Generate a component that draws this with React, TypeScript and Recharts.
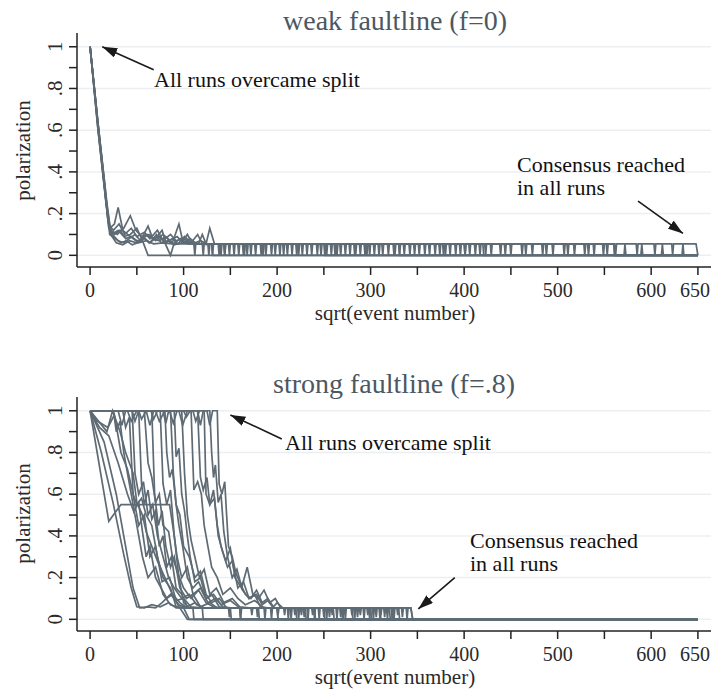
import { LineChart, Line, XAxis, YAxis, CartesianGrid, ReferenceLine } from "recharts";

type Pt = [number, number];

const xTicks = [0, 50, 100, 150, 200, 250, 300, 350, 400, 450, 500, 550, 600, 650];
const xTickLabels = [0, 100, 200, 300, 400, 500, 600, 650];
const yTicks = [0, 0.1, 0.2, 0.3, 0.4, 0.5, 0.6, 0.7, 0.8, 0.9, 1];
const yTickLabels = [0, 0.2, 0.4, 0.6, 0.8, 1];

// weak faultline runs
const weakRun1: Pt[] = [
  [0, 1], [8, 0.62], [16, 0.3], [20, 0.13], [26, 0.1], [32, 0.12], [38, 0.08], [44, 0.09], [50, 0.07], [56, 0.07], [62, 0],
  [571, 0], [572, 0.055], [573, 0], [589, 0], [590, 0.055], [591, 0], [611, 0], [612, 0.055], [613, 0], [633, 0], [634, 0.055], [635, 0], [650, 0],
];
const weakRun2: Pt[] = [
  [0, 1], [9, 0.6], [17, 0.27], [22, 0.12], [29, 0.1], [36, 0.13], [43, 0.19], [49, 0.12], [55, 0.09], [61, 0.1], [67, 0.08], [74, 0.09], [80, 0.06], [86, 0], [90, 0.06], [97, 0.08], [104, 0.055],
  [111, 0.055], [112, 0], [113, 0.055], [126, 0.055], [127, 0], [128, 0.055], [143, 0.055], [144, 0], [145, 0.055], [153, 0.055], [154, 0], [155, 0.055],
  [163, 0.055], [164, 0], [165, 0.055], [182, 0.055], [183, 0], [184, 0.055], [193, 0.055], [194, 0], [195, 0.055], [210, 0.055], [211, 0], [212, 0.055],
  [222, 0.055], [223, 0], [224, 0.055], [242, 0.055], [243, 0], [244, 0.055], [252, 0.055], [253, 0], [254, 0.055], [263, 0.055], [264, 0], [265, 0.055],
  [283, 0.055], [284, 0], [285, 0.055], [293, 0.055], [294, 0], [295, 0.055], [312, 0.055], [313, 0], [314, 0.055], [325, 0.055], [326, 0], [327, 0.055],
  [330, 0.055], [331, 0], [650, 0],
];
const weakRun3: Pt[] = [
  [0, 1], [8, 0.64], [16, 0.31], [20, 0.15], [24, 0.1], [30, 0.07], [36, 0.06], [42, 0.08], [48, 0.1], [54, 0.07], [62, 0.14], [67, 0.08], [74, 0.07], [81, 0.09], [88, 0.06], [95, 0.15], [99, 0.07], [106, 0.06], [113, 0.055],
  [120, 0.055], [121, 0], [122, 0.055], [139, 0.055], [140, 0], [141, 0.055], [158, 0.055], [159, 0], [160, 0.055], [176, 0.055], [177, 0], [178, 0.055],
  [197, 0.055], [198, 0], [199, 0.055], [215, 0.055], [216, 0], [217, 0.055], [236, 0.055], [237, 0], [238, 0.055], [257, 0.055], [258, 0], [259, 0.055],
  [277, 0.055], [278, 0], [279, 0.055], [298, 0.055], [299, 0], [300, 0.055], [318, 0.055], [319, 0], [320, 0.055], [341, 0.055], [342, 0], [343, 0.055],
  [362, 0.055], [363, 0], [364, 0.055], [384, 0.055], [385, 0], [386, 0.055], [405, 0.055], [406, 0], [407, 0.055], [428, 0.055], [429, 0], [430, 0.055],
  [449, 0.055], [450, 0], [451, 0.055], [472, 0.055], [473, 0], [474, 0.055], [494, 0.055], [495, 0], [496, 0.055], [517, 0.055], [518, 0], [519, 0.055],
  [538, 0.055], [539, 0], [540, 0.055], [561, 0.055], [562, 0], [563, 0.055], [584, 0.055], [585, 0], [586, 0.055], [603, 0.055], [604, 0], [605, 0.055],
  [622, 0.055], [623, 0], [624, 0.055], [648, 0.055], [650, 0],
];
const weakRun4: Pt[] = [
  [0, 1], [9, 0.58], [17, 0.25], [21, 0.1], [27, 0.08], [33, 0.06], [39, 0.07], [45, 0.05], [51, 0.06], [58, 0.08], [64, 0.06], [71, 0.1], [76, 0.06], [83, 0.07], [90, 0.05], [98, 0.06], [104, 0.1], [109, 0.06], [116, 0.055], [120, 0.1], [124, 0.055], [128, 0.13], [133, 0.055],
  [137, 0.055], [138, 0], [139, 0.055], [171, 0.055], [172, 0], [173, 0.055], [202, 0.055], [203, 0], [204, 0.055], [231, 0.055], [232, 0], [233, 0.055],
  [272, 0.055], [273, 0], [274, 0.055], [303, 0.055], [304, 0], [305, 0.055], [335, 0.055], [336, 0], [337, 0.055], [357, 0.055], [358, 0], [359, 0.055],
  [368, 0.055], [369, 0], [370, 0.055], [379, 0.055], [380, 0], [381, 0.055], [390, 0.055], [391, 0], [392, 0.055], [400, 0.055], [401, 0], [402, 0.055],
  [411, 0.055], [412, 0], [413, 0.055], [420, 0.055], [421, 0], [650, 0],
];
const weakRun5: Pt[] = [[0, 1], [10, 0.57], [18, 0.22], [22, 0.1], [28, 0.06], [35, 0.05], [42, 0.07], [50, 0.06], [57, 0.09], [63, 0.06], [70, 0.08], [77, 0.12], [81, 0.06], [88, 0.08], [94, 0.055], [101, 0.09], [108, 0.06], [115, 0.1], [120, 0.055], [130, 0.055], [131, 0], [650, 0]];
const weakRun6: Pt[] = [
  [0, 1], [8, 0.65], [16, 0.33], [19, 0.17], [23, 0.1], [30, 0.12], [36, 0.09], [43, 0.1], [50, 0.13], [55, 0.08], [63, 0.1], [70, 0.07], [78, 0.1], [85, 0.07], [93, 0.09], [100, 0.06], [107, 0.08], [114, 0.055],
  [130, 0.055], [131, 0], [132, 0.055], [148, 0.055], [149, 0], [150, 0.055], [167, 0.055], [168, 0], [169, 0.055], [187, 0.055], [188, 0], [189, 0.055],
  [206, 0.055], [207, 0], [208, 0.055], [226, 0.055], [227, 0], [228, 0.055], [246, 0.055], [247, 0], [248, 0.055], [267, 0.055], [268, 0], [269, 0.055],
  [288, 0.055], [289, 0], [290, 0.055], [308, 0.055], [309, 0], [310, 0.055], [330, 0.055], [331, 0], [332, 0.055], [351, 0.055], [352, 0], [353, 0.055],
  [373, 0.055], [374, 0], [375, 0.055], [395, 0.055], [396, 0], [397, 0.055], [416, 0.055], [417, 0], [418, 0.055], [438, 0.055], [439, 0], [440, 0.055],
  [461, 0.055], [462, 0], [463, 0.055], [483, 0.055], [484, 0], [485, 0.055], [506, 0.055], [507, 0], [508, 0.055], [528, 0.055], [529, 0], [530, 0.055],
  [548, 0.055], [549, 0], [550, 0.055], [560, 0.055], [561, 0], [650, 0],
];
const weakRun7: Pt[] = [
  [0, 1], [9, 0.61], [17, 0.29], [21, 0.14], [25, 0.12], [31, 0.15], [37, 0.1], [44, 0.13], [50, 0.09], [58, 0.11], [64, 0.08], [72, 0.12], [78, 0.07], [86, 0.1], [92, 0.07], [100, 0.08], [110, 0.055], [118, 0.07], [125, 0.055],
  [143, 0.055], [144, 0], [145, 0.055], [164, 0.055], [165, 0], [166, 0.055], [184, 0.055], [185, 0], [186, 0.055], [220, 0.055], [221, 0], [222, 0.055],
  [251, 0.055], [252, 0], [253, 0.055], [261, 0.055], [262, 0], [263, 0.055], [282, 0.055], [283, 0], [284, 0.055], [295, 0.055], [296, 0], [297, 0.055],
  [324, 0.055], [325, 0], [326, 0.055], [346, 0.055], [347, 0], [348, 0.055], [377, 0.055], [378, 0], [379, 0.055], [400, 0.055], [401, 0], [402, 0.055],
  [422, 0.055], [423, 0], [424, 0.055], [443, 0.055], [444, 0], [445, 0.055], [465, 0.055], [466, 0], [467, 0.055], [487, 0.055], [488, 0], [489, 0.055],
  [510, 0.055], [511, 0], [512, 0.055], [532, 0.055], [533, 0], [534, 0.055], [552, 0.055], [553, 0], [554, 0.055], [560, 0.055], [561, 0], [650, 0],
];
const weakRun8: Pt[] = [[0, 1], [9, 0.59], [17, 0.26], [21, 0.13], [26, 0.15], [30, 0.23], [35, 0.12], [40, 0.1], [46, 0.08], [52, 0.06], [60, 0.07], [68, 0.055], [78, 0.06], [88, 0.055], [250, 0.055], [251, 0], [650, 0]];

// strong faultline runs
const strongRun1: Pt[] = [[0, 1], [20, 0.47], [33, 0.55], [85, 0.55], [90, 0.4], [95, 0.2], [100, 0.08], [106, 0.055], [120, 0.055], [121, 0], [650, 0]];
const strongRun2: Pt[] = [[0, 1], [12, 0.8], [25, 0.55], [36, 0.31], [44, 0.15], [50, 0.06], [58, 0.055], [66, 0.07], [75, 0.06], [84, 0.08], [92, 0.055], [110, 0.055], [111, 0], [650, 0]];
const strongRun3: Pt[] = [[0, 1], [15, 0.85], [28, 0.6], [38, 0.35], [46, 0.15], [53, 0.055], [62, 0.06], [70, 0.055], [77, 0.08], [86, 0.12], [95, 0.07], [104, 0.055], [160, 0.055], [161, 0], [650, 0]];
const strongRun4: Pt[] = [[0, 1], [10, 0.92], [20, 0.88], [30, 0.75], [40, 0.6], [48, 0.5], [56, 0.3], [62, 0.2], [70, 0.25], [78, 0.12], [86, 0.07], [96, 0.055], [104, 0], [650, 0]];
const strongRun5: Pt[] = [[0, 1], [8, 0.95], [19, 0.92], [26, 0.98], [33, 0.8], [40, 0.72], [45, 0.62], [52, 0.45], [58, 0.5], [64, 0.3], [70, 0.35], [77, 0.18], [85, 0.2], [92, 0.09], [100, 0.1], [108, 0.06], [118, 0.055], [200, 0.055], [201, 0], [650, 0]];
const strongRun6: Pt[] = [[0, 1], [30, 1], [34, 0.93], [38, 1], [45, 1], [48, 0.7], [52, 0.6], [57, 0.66], [62, 0.5], [67, 0.55], [72, 0.4], [78, 0.3], [84, 0.2], [90, 0.15], [98, 0.1], [106, 0.12], [114, 0.07], [122, 0.055], [250, 0.055], [251, 0], [650, 0]];
const strongRun7: Pt[] = [
  [0, 1], [40, 1], [44, 0.95], [50, 1], [58, 1], [62, 0.75], [66, 0.68], [70, 0.56], [74, 0.6], [78, 0.45], [84, 0.42], [88, 0.3], [94, 0.22], [100, 0.15], [108, 0.1], [116, 0.14], [124, 0.08], [132, 0.06], [140, 0.055],
  [148, 0.055], [149, 0.01], [150, 0.055], [160, 0.055], [161, 0], [162, 0.055], [172, 0.055], [173, 0.02], [174, 0.055], [186, 0.055], [187, 0], [188, 0.055],
  [200, 0.055], [201, 0.02], [202, 0.055], [214, 0.055], [215, 0], [216, 0.055], [228, 0.055], [229, 0.01], [230, 0.055], [244, 0.055], [245, 0], [246, 0.055],
  [258, 0.055], [259, 0.02], [260, 0.055], [272, 0.055], [273, 0], [274, 0.055], [285, 0.055], [286, 0.01], [287, 0.055], [298, 0.055], [299, 0], [300, 0.055],
  [310, 0.055], [311, 0.02], [312, 0.055], [322, 0.055], [323, 0], [324, 0.055], [333, 0.055], [334, 0.01], [335, 0.055], [343, 0.055], [345, 0], [650, 0],
];
const strongRun8: Pt[] = [[0, 1], [52, 1], [55, 0.96], [60, 1], [66, 1], [69, 0.6], [73, 0.45], [77, 0.52], [81, 0.35], [86, 0.25], [90, 0.3], [96, 0.15], [103, 0.1], [110, 0.12], [118, 0.06], [128, 0.08], [136, 0.055], [300, 0.055], [301, 0], [650, 0]];
const strongRun9: Pt[] = [[0, 1], [60, 1], [64, 0.93], [68, 1], [75, 1], [78, 0.65], [82, 0.55], [86, 0.62], [90, 0.4], [93, 0.3], [98, 0.2], [104, 0.25], [110, 0.12], [118, 0.15], [126, 0.08], [134, 0.1], [142, 0.06], [150, 0.055], [220, 0.055], [221, 0], [650, 0]];
const strongRun10: Pt[] = [[0, 1], [70, 1], [74, 0.95], [80, 1], [86, 1], [89, 0.7], [92, 0.55], [95, 0.45], [99, 0.35], [104, 0.2], [110, 0.15], [116, 0.18], [124, 0.1], [132, 0.12], [140, 0.07], [150, 0.09], [160, 0.055], [270, 0.055], [271, 0], [650, 0]];
const strongRun11: Pt[] = [
  [0, 1], [85, 1], [89, 0.94], [93, 1], [98, 1], [101, 0.7], [104, 0.5], [108, 0.38], [112, 0.3], [117, 0.2], [122, 0.24], [128, 0.12], [135, 0.15], [143, 0.08], [152, 0.1], [160, 0.06], [170, 0.055],
  [178, 0.055], [179, 0.01], [180, 0.055], [193, 0.055], [194, 0], [195, 0.055], [207, 0.055], [208, 0.02], [209, 0.055], [222, 0.055], [223, 0], [224, 0.055],
  [237, 0.055], [238, 0.02], [239, 0.055], [252, 0.055], [253, 0], [254, 0.055], [267, 0.055], [268, 0.01], [269, 0.055], [282, 0.055], [283, 0], [284, 0.055],
  [296, 0.055], [297, 0.02], [298, 0.055], [309, 0.055], [310, 0], [311, 0.055], [320, 0.055], [321, 0], [650, 0],
];
const strongRun12: Pt[] = [[0, 1], [95, 1], [99, 0.93], [104, 1], [108, 1], [111, 0.62], [115, 0.66], [119, 0.6], [122, 0.45], [126, 0.35], [130, 0.25], [136, 0.2], [142, 0.12], [150, 0.15], [158, 0.1], [166, 0.07], [176, 0.09], [186, 0.055], [240, 0.055], [241, 0], [650, 0]];
const strongRun13: Pt[] = [
  [0, 1], [110, 1], [113, 0.95], [117, 1], [122, 1], [124, 0.6], [128, 0.55], [132, 0.62], [136, 0.45], [140, 0.35], [145, 0.28], [150, 0.34], [155, 0.2], [162, 0.15], [168, 0.25], [174, 0.12], [180, 0.1], [186, 0.14], [192, 0.08], [198, 0.1], [204, 0.055],
  [211, 0.055], [212, 0], [213, 0.055], [225, 0.055], [226, 0.02], [227, 0.055], [239, 0.055], [240, 0], [241, 0.055], [255, 0.055], [256, 0.01], [257, 0.055],
  [269, 0.055], [270, 0], [271, 0.055], [288, 0.055], [289, 0.02], [290, 0.055], [302, 0.055], [303, 0], [304, 0.055], [314, 0.055], [315, 0.01], [316, 0.055],
  [324, 0.055], [325, 0], [326, 0.055], [330, 0.055], [331, 0], [650, 0],
];
const strongRun14: Pt[] = [
  [0, 1], [125, 1], [128, 0.93], [131, 1], [136, 1], [138, 0.65], [141, 0.6], [144, 0.66], [146, 0.5], [148, 0.35], [152, 0.3], [156, 0.22], [160, 0.18], [166, 0.12], [172, 0.1], [178, 0.14], [184, 0.08], [190, 0.1], [196, 0.06], [200, 0.08], [206, 0.055],
  [218, 0.055], [219, 0.02], [220, 0.055], [232, 0.055], [233, 0], [234, 0.055], [249, 0.055], [250, 0.01], [251, 0.055], [263, 0.055], [264, 0], [265, 0.055],
  [279, 0.055], [280, 0.02], [281, 0.055], [292, 0.055], [293, 0], [294, 0.055], [305, 0.055], [306, 0.01], [307, 0.055], [317, 0.055], [318, 0], [319, 0.055],
  [328, 0.055], [329, 0.02], [330, 0.055], [338, 0.055], [339, 0], [340, 0.055], [343, 0.055], [345, 0], [650, 0],
];
const strongRun15: Pt[] = [[0, 1], [18, 0.9], [24, 1], [32, 0.9], [38, 0.8], [46, 0.7], [50, 0.56], [56, 0.5], [60, 0.42], [66, 0.35], [72, 0.28], [80, 0.2], [88, 0.12], [96, 0.08], [104, 0.055], [180, 0.055], [181, 0], [650, 0]];
const strongRun16: Pt[] = [[0, 1], [35, 1], [38, 0.92], [42, 0.97], [46, 0.6], [50, 0.55], [55, 0.58], [60, 0.5], [66, 0.45], [72, 0.3], [78, 0.2], [86, 0.15], [92, 0.06], [100, 0.055], [106, 0], [650, 0]];
const strongRun17: Pt[] = [[0, 1], [65, 1], [68, 0.96], [72, 1], [80, 1], [82, 0.8], [85, 0.68], [88, 0.72], [92, 0.55], [96, 0.5], [100, 0.35], [106, 0.3], [112, 0.2], [118, 0.23], [124, 0.12], [130, 0.08], [138, 0.1], [146, 0.055], [200, 0.055], [201, 0], [650, 0]];
const strongRun18: Pt[] = [[0, 1], [100, 1], [103, 0.97], [107, 1], [115, 1], [118, 0.68], [121, 0.62], [125, 0.68], [128, 0.55], [133, 0.58], [137, 0.4], [142, 0.32], [147, 0.25], [152, 0.28], [158, 0.15], [164, 0.18], [170, 0.1], [178, 0.12], [184, 0.07], [190, 0.09], [196, 0.055], [280, 0.055], [281, 0], [650, 0]];
const strongRun19: Pt[] = [[0, 1], [25, 1], [28, 0.9], [32, 0.95], [36, 0.8], [40, 0.7], [44, 0.6], [47, 0.52], [52, 0.56], [56, 0.42], [60, 0.3], [64, 0.35], [70, 0.2], [76, 0.15], [82, 0.1], [88, 0.12], [95, 0.06], [102, 0.055], [150, 0.055], [151, 0], [650, 0]];
const strongRun20: Pt[] = [[0, 1], [45, 1], [48, 0.95], [52, 1], [55, 0.65], [58, 0.55], [62, 0.62], [66, 0.48], [70, 0.52], [74, 0.35], [78, 0.4], [82, 0.25], [87, 0.3], [92, 0.15], [98, 0.12], [104, 0.06], [112, 0.08], [120, 0.055], [260, 0.055], [261, 0], [650, 0]];
const strongRun21: Pt[] = [[0, 1], [78, 1], [81, 0.94], [84, 1], [90, 1], [92, 0.78], [95, 0.82], [98, 0.6], [101, 0.52], [104, 0.4], [107, 0.3], [112, 0.18], [118, 0.2], [124, 0.1], [130, 0.12], [138, 0.06], [146, 0.055], [230, 0.055], [231, 0], [650, 0]];
const strongRun22: Pt[] = [[0, 1], [115, 1], [118, 0.93], [121, 1], [128, 1], [130, 0.8], [132, 0.68], [134, 0.74], [137, 0.56], [140, 0.6], [143, 0.42], [147, 0.3], [152, 0.2], [157, 0.24], [163, 0.14], [170, 0.1], [176, 0.12], [182, 0.06], [190, 0.055], [310, 0.055], [311, 0], [650, 0]];

const weakRuns = [weakRun1, weakRun2, weakRun3, weakRun4, weakRun5, weakRun6, weakRun7, weakRun8];
const strongRuns = [
  strongRun1, strongRun2, strongRun3, strongRun4, strongRun5, strongRun6, strongRun7, strongRun8, strongRun9, strongRun10, strongRun11,
  strongRun12, strongRun13, strongRun14, strongRun15, strongRun16, strongRun17, strongRun18, strongRun19, strongRun20, strongRun21, strongRun22,
];

const LINE_COLOR = "#5e6b74";
const FONT = '"Liberation Serif", "Times New Roman", serif';

type Note = { lines: string[]; left: number; baseline: number };
type Arrow = { from: { x: number; y: number }; to: { x: number; y: number } };

const YTick = (props: any) => {
  const { x, y, payload } = props;
  if (!yTickLabels.some((v) => Math.abs(v - payload.value) < 1e-6)) return <g />;
  const label = String(Math.round(payload.value * 10) / 10).replace(/^0\./, ".");
  const bx = x - 7;
  return (
    <text x={bx} y={y} textAnchor="middle" fontSize={21} fontFamily={FONT} fill="#2a2a2a" transform={`rotate(-90 ${bx} ${y})`}>
      {label}
    </text>
  );
};

const XTick = (props: any) => {
  const { x, y, payload } = props;
  if (!xTickLabels.includes(payload.value)) return <g />;
  // last label sits against the right edge, nudge it in a bit
  const dx = payload.value === 650 ? -3 : 0;
  return (
    <text x={x + dx} y={y + 15} textAnchor="middle" fontSize={20} fontFamily={FONT} fill="#2a2a2a">
      {payload.value}
    </text>
  );
};

const Panel = ({ top, title, titleLeft, runs, notes, arrows, id }: {
  top: number; title: string; titleLeft: number; runs: Pt[][]; notes: Note[]; arrows: Arrow[]; id: string;
}) => (
  <div style={{ position: "absolute", left: 0, top, width: 712, height: 330 }}>
    <LineChart width={712} height={330} margin={{ top: 33, right: 1, bottom: 0, left: 0 }}>
      <defs>
        <marker id={id} viewBox="0 0 15 10" refX={15} refY={5} markerWidth={15} markerHeight={10} markerUnits="userSpaceOnUse" orient="auto">
          <path d="M0,0 L15,5 L0,10 z" fill="#1a1a1a" />
        </marker>
      </defs>
      <CartesianGrid horizontal vertical={false} horizontalValues={yTickLabels} stroke="#eceff1" strokeWidth={1.5} />
      <XAxis
        type="number"
        dataKey="x"
        domain={[-14, 664]}
        ticks={xTicks}
        interval={0}
        allowDataOverflow
        height={63}
        tickSize={8}
        tickMargin={7}
        stroke="#222"
        strokeWidth={1.5}
        tick={<XTick />}
      />
      <YAxis
        type="number"
        domain={[-0.056, 1.066]}
        ticks={yTicks}
        interval={0}
        allowDataOverflow
        width={77}
        tickSize={8}
        tickMargin={0}
        stroke="#222"
        strokeWidth={1.5}
        tick={<YTick />}
      />
      {runs.map((run, i) => (
        <Line
          key={i}
          data={run.map(([x, y]) => ({ x, y }))}
          dataKey="y"
          type="linear"
          stroke={LINE_COLOR}
          strokeWidth={1.7}
          dot={false}
          activeDot={false}
          isAnimationActive={false}
        />
      ))}
      {arrows.map((a, i) => (
        <ReferenceLine
          key={`a${i}`}
          segment={[a.from, a.to]}
          shape={(p: any) => (
            <line x1={p.x1} y1={p.y1} x2={p.x2} y2={p.y2} stroke="#1a1a1a" strokeWidth={1.6} markerEnd={`url(#${id})`} />
          )}
        />
      ))}
    </LineChart>
    <div style={{ position: "absolute", left: titleLeft, top: 30 - 0.8375 * 28, fontSize: 28, lineHeight: "28px", fontFamily: FONT, color: "#4b5862", whiteSpace: "nowrap" }}>
      {title}
    </div>
    {notes.map((n, i) =>
      n.lines.map((t, j) => (
        <div
          key={`${i}-${j}`}
          style={{ position: "absolute", left: n.left, top: n.baseline + j * 23 - 0.8375 * 22, fontSize: 22, lineHeight: "22px", fontFamily: FONT, color: "#111", whiteSpace: "nowrap" }}
        >
          {t}
        </div>
      ))
    )}
    <div style={{ position: "absolute", left: 395 - 150, width: 300, textAlign: "center", top: 321 - 0.8375 * 21, fontSize: 21, lineHeight: "21px", fontFamily: FONT, color: "#2a2a2a" }}>
      sqrt(event number)
    </div>
    <div style={{ position: "absolute", left: 23 - 100, width: 200, textAlign: "center", top: 150 - 10.5, fontSize: 21, lineHeight: "21px", fontFamily: FONT, color: "#2a2a2a", transform: "rotate(-90deg)" }}>
      polarization
    </div>
  </div>
);

export default function App() {
  return (
    <div style={{ position: "absolute", left: 0, top: 0, width: 712, height: 691, background: "#fff", overflow: "hidden" }}>
      <Panel
        id="arrowWeak"
        top={0}
        title="weak faultline (f=0)"
        titleLeft={283}
        runs={weakRuns}
        notes={[
          { lines: ["All runs overcame split"], left: 154, baseline: 87 },
          { lines: ["Consensus reached", "in all runs"], left: 517, baseline: 172 },
        ]}
        arrows={[
          { from: { x: 68, y: 0.89 }, to: { x: 13, y: 1.0 } },
          { from: { x: 586, y: 0.26 }, to: { x: 634, y: 0.105 } },
        ]}
      />
      <Panel
        id="arrowStrong"
        top={363.5}
        title="strong faultline (f=.8)"
        titleLeft={273}
        runs={strongRuns}
        notes={[
          { lines: ["All runs overcame split"], left: 285, baseline: 87 },
          { lines: ["Consensus reached", "in all runs"], left: 470, baseline: 185 },
        ]}
        arrows={[
          { from: { x: 205, y: 0.865 }, to: { x: 150, y: 0.98 } },
          { from: { x: 390, y: 0.2 }, to: { x: 351, y: 0.05 } },
        ]}
      />
    </div>
  );
}
